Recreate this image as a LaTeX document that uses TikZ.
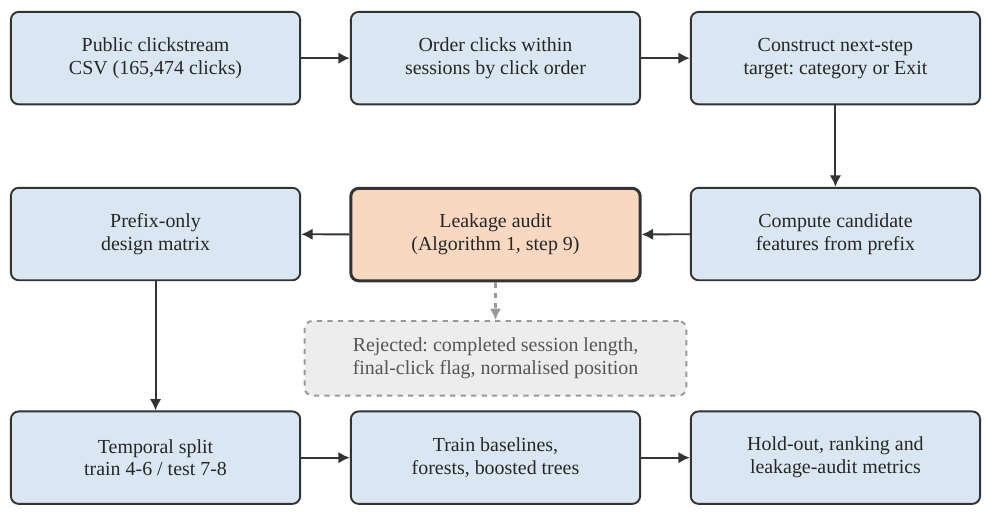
\documentclass[tikz,border=0pt]{standalone}
\usepackage{fontspec}
\setmainfont{Liberation Serif}
\usepackage{xcolor}
\usepackage{tikz}
\usetikzlibrary{arrows.meta,positioning,calc}
\definecolor{stagefill}{HTML}{DAE7F3}
\definecolor{auditfill}{HTML}{F8D8C1}
\definecolor{rejectfill}{HTML}{EDEDED}
\definecolor{linedark}{HTML}{333333}
\definecolor{rejectline}{HTML}{999999}
\definecolor{rejecttext}{HTML}{555555}
\frenchspacing

\begin{document}
\begin{tikzpicture}[
    font=\fontsize{11.4}{13.1}\selectfont,
    node distance=1.64cm and 0.98cm,
    stage/.style={draw=linedark, line width=1.1pt, rounded corners=4.5pt, align=center, minimum width=5.82cm, minimum height=1.86cm, fill=stagefill, text=black!85},
    auditbox/.style={stage, fill=auditfill, line width=1.7pt},
    rejectbox/.style={draw=rejectline, dashed, line width=1.1pt, rounded corners=4.5pt, align=center, minimum width=7.68cm, minimum height=1.5cm, fill=rejectfill, text=rejecttext},
    arrow/.style={-{Latex[length=2.3mm,width=2.3mm]}, line width=1.1pt, draw=linedark},
    dashedarrow/.style={-{Latex[length=2.3mm,width=2.3mm]}, line width=1.3pt, dashed, draw=rejectline}
]

% Top row
\node[stage] (pub) {Public clickstream\\CSV (165,474 clicks)};
\node[stage, right=of pub] (order) {Order clicks within\\sessions by click order};
\node[stage, right=of order] (target) {Construct next-step\\target: category or Exit};

% Middle row
\node[stage, below=of target] (feats) {Compute candidate\\features from prefix};
\node[auditbox, below=of order] (audit) {Leakage audit\\(Algorithm 1, step 9)};
\node[stage, below=of pub] (prefix) {Prefix-only\\design matrix};
\node[rejectbox, below=0.76cm of audit] (rejected) {Rejected: completed session length,\\final-click flag, normalised position};

% Bottom row
\node[stage, below=2.6cm of prefix] (split) {Temporal split\\train 4-6 / test 7-8};
\node[stage, right=of split] (train) {Train baselines,\\forests, boosted trees};
\node[stage, right=of train] (holdout) {Hold-out, ranking and\\leakage-audit metrics};

\useasboundingbox ($(pub.north west)+(-0.2,0.22)$) rectangle ($(holdout.south east)+(0.18,-0.18)$);

\draw[arrow] (pub) -- (order);
\draw[arrow] (order) -- (target);
\draw[arrow] (target) -- (feats);
\draw[arrow] (feats) -- (audit);
\draw[arrow] (audit) -- (prefix);
\draw[dashedarrow] (audit) -- (rejected);
\draw[arrow] (prefix) -- (split);
\draw[arrow] (split) -- (train);
\draw[arrow] (train) -- (holdout);

\end{tikzpicture}
\end{document}
